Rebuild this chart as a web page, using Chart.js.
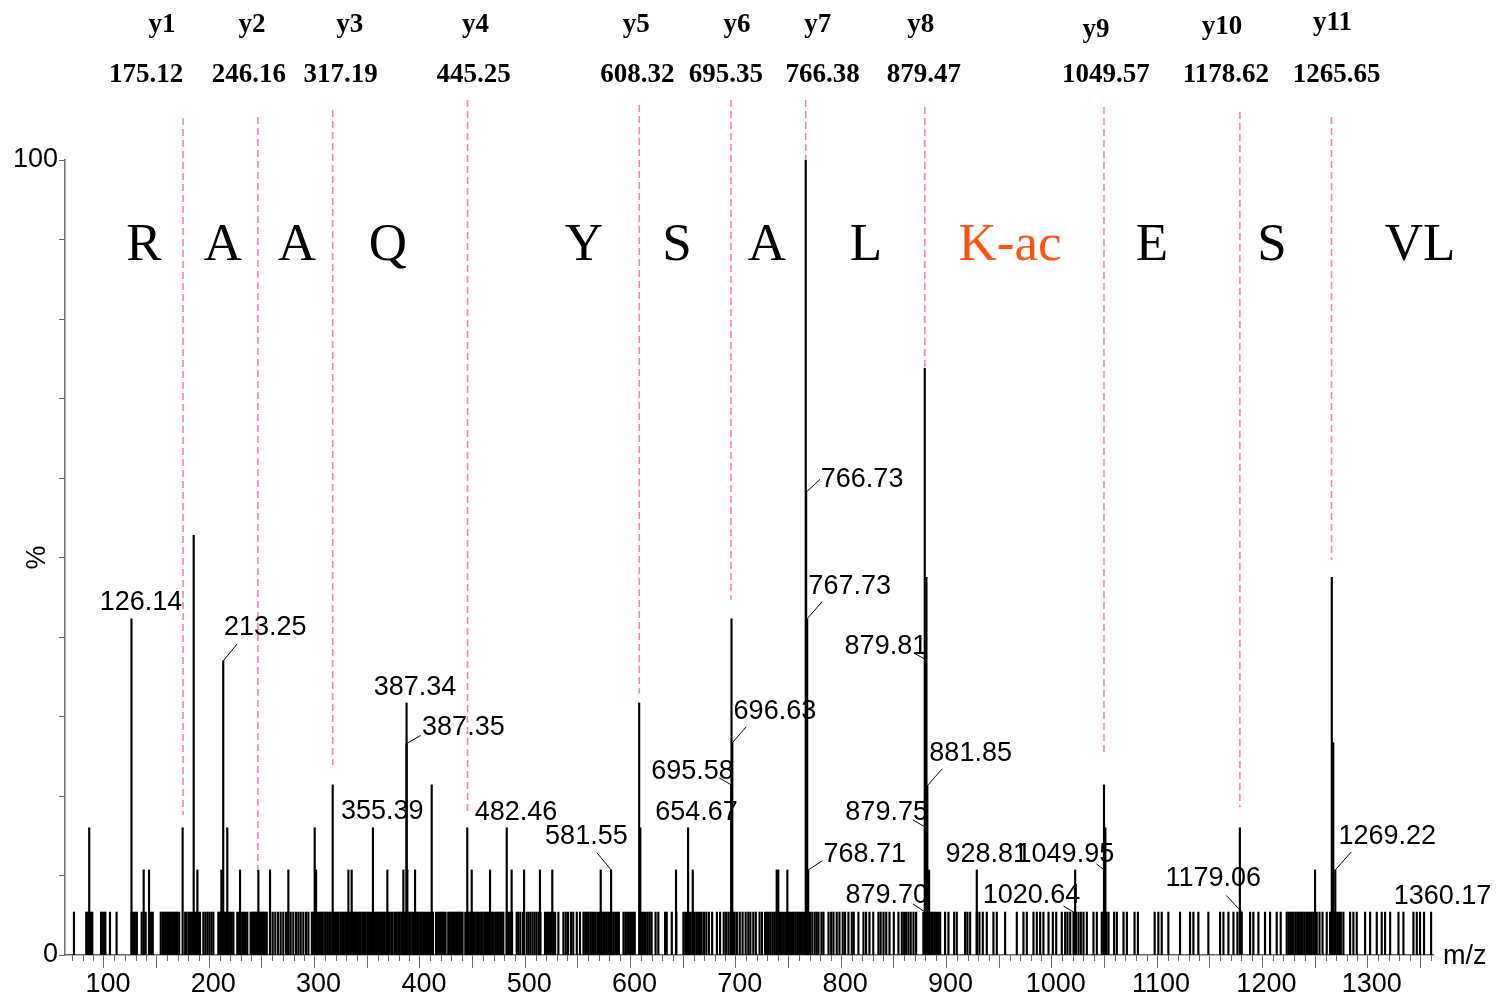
<!DOCTYPE html>
<html>
<head>
<meta charset="utf-8">
<script src="https://cdn.jsdelivr.net/npm/chart.js@4.4.1/dist/chart.umd.min.js"></script>
<style>
  html, body { margin: 0; padding: 0; background: #ffffff; }
  canvas { display: block; }
</style>
</head>
<body>
<canvas id="spectrum" width="1497" height="999"></canvas>
<script>
// ---- MS/MS spectrum of RAAQYSALK(ac)ESVL, relative intensity (%) vs m/z ----

// baseline ions (single-count level)
const noiseLevel = 5.4;
const noiseMzA = [71.5, 83.2, 84.6, 86.1, 87.6, 88.9, 97.2, 98.5, 100, 101.3, 105.7, 112, 126.3, 127.8, 129.4, 131.2,
  135.8, 137.7, 139.6, 142.8, 144.7, 146.3, 153.9, 155.6, 157.1, 158.9, 160.2, 161.7, 163.5, 165.1, 166.5, 168.3,
  169.6, 171.4, 177.1, 178.5, 180.6, 182.1, 183.7, 186.4, 188.1, 189.5, 191.2, 194.4, 196.3, 198.2, 200.1, 202,
  203.9, 208.6, 210.1, 211.6, 214, 215.4, 216.6, 218.1, 219.8, 221.3, 222.9, 226.6, 228.2, 229.8, 231.4, 233,
  234.6, 236.1, 239.3, 240.7, 242, 243.2, 244.5, 245.7, 247, 248.3, 249.5, 250.8, 252.1, 253.4, 254.6, 257.7,
  260.2, 262.7, 265.3, 267.8, 270.3, 272.9, 275.1, 277.3, 279.8, 282.4, 284.6, 286.8, 289.3, 291.9, 294.1];
const noiseMzB = [297.4, 298.9, 300.2, 301.8, 303.1, 304.7, 306.2, 307.6, 309.3, 310.6, 312.1, 313.8, 315.2, 316.9,
  318.3, 319.7, 321.4, 322.8, 324.5, 325.9, 327.2, 329, 330.4, 331.9, 333.5, 334.8, 336.4, 337.9, 339.3, 341,
  342.4, 343.8, 345.5, 347, 348.4, 350.1, 351.5, 352.9, 354.6, 356, 357.5, 359.1, 360.6, 362, 363.7, 365.1, 366.6,
  368.2, 369.6, 371.1, 372.8, 374.2, 376.4, 377.9, 379.5, 380.8, 382.4, 383.9, 385.3, 386.8, 388.4, 389.8, 391.3,
  392.9, 394.4, 395.8, 397.3, 398.9, 400.4, 401.8, 403.3, 404.9, 406.4, 407.8, 409.5, 411, 412.4, 415.3, 416.8,
  418.4, 419.9, 421.3, 422.9, 424.4, 426.9, 428.4, 429.9, 431.4, 432.8, 434.4, 435.9, 437.3, 438.9, 440.5, 443.1,
  444.6, 446.1, 447.6, 449.2, 450.6, 452.1, 453.7, 455.2, 456.6, 458.1, 459.6, 461.2, 462.7, 464.1, 465.6, 467.2,
  468.6, 470.1, 471.7, 473.1, 474.6, 476.2, 477.7, 479.2, 482.4, 484, 485.7, 487.5, 491.9, 493.5, 495.4, 497.9,
  501.4, 503.2, 505, 507, 508.9, 510.7, 512.6, 514.5, 518.8, 520.6, 522.5, 524.4, 526.4, 528.4, 531.5, 536.3,
  538.5, 540.6, 543.4, 545.6, 549, 552, 555.3, 557, 558.6, 560.2, 561.9, 563.6, 565.2, 567, 569, 570.8, 572.3,
  574, 575.6, 577.3, 578.9, 580.4, 582.2, 583.8, 585.5, 587.2, 589, 593.3, 595.1, 596.8, 598.5];
const noiseMzC = [600.4, 602.3, 604, 609.3, 611, 612.7, 614.5, 616.3, 618.2, 620, 623.8, 626.4, 632.8, 634.4, 639.2,
  643.5, 650.2, 652, 653.7, 655.5, 657.2, 659, 660.7, 662.5, 664.2, 666, 667.6, 669.8, 672, 674.5, 677.5, 682,
  685, 688.5, 690.8, 693, 695, 697.6, 698.9, 701, 703.7, 706.4, 709.3, 711.8, 713.8, 716.6, 719, 722.5, 724.8,
  727.8, 729.6, 731.3, 733, 734.9, 736.6, 738.4, 740.2, 742, 743.7, 745.6, 747.6, 748.8, 750.2, 751.6, 753.3,
  755, 756.8, 758.5, 760.1, 761.8, 763.6, 765.2, 767, 768.8, 770.5, 772.6, 774.9, 776.7, 778.5, 781.3, 783.2,
  788, 790.5, 792.7, 795.8, 798.4, 801.5, 803.7, 806.9, 810.1, 812, 816.4, 821.2, 823.7, 826.9, 830.5, 835.4,
  837.5, 840.2, 842.8, 845.9, 850, 854.4, 857.6, 859.8, 861.7, 863.9, 866.1, 868.7, 871.2, 878.1, 879.6, 881,
  882.5, 884, 885.5, 887, 888.6, 890.2, 892, 894, 898.7];
const noiseMzD = [901.9, 907.3, 909.8, 917.7, 919.9, 922.5, 928.8, 931.3, 934.5, 938.3, 944.6, 947.8, 955.7, 966.8,
  973.1, 976.3, 982.6, 985.8, 989, 992.1, 996.9, 1001, 1004.2, 1009.5, 1012.7, 1014.9, 1017.5, 1023.1, 1025.4,
  1027.6, 1030.1, 1033.3, 1039.6, 1042.8, 1047.5, 1049, 1050.5, 1052, 1053.9, 1059.2, 1061.8, 1068.1, 1071.3,
  1078.6, 1081.8, 1097.7, 1101.2, 1104.4, 1110.7, 1121.8, 1131.3, 1134.5, 1139.2, 1148.7, 1159.8, 1163, 1167.7,
  1172.5, 1176.3, 1180.4, 1188.3, 1191.4, 1196.2, 1202.5, 1207.3, 1213.6, 1217.4, 1223.1, 1224.8, 1226.4, 1228,
  1229.7, 1231.5, 1233.1, 1234.8, 1236.6, 1238.3, 1240, 1241.7, 1243.4, 1245.2, 1246.8, 1248.4, 1251.6, 1254.2,
  1257.1, 1261.1, 1264.3, 1266, 1267.7, 1269.4, 1271.1, 1272.8, 1274.5, 1276.9, 1283.3, 1286.4, 1289.6, 1297.5,
  1302.3, 1308.6, 1313.3, 1316.5, 1321.3, 1329.2, 1333.9, 1343.4, 1346.6, 1349.7, 1353.5];

// stronger, unlabelled peaks
const peakMz  = [86.0, 137.7, 142.8, 174.7, 185.2, 188.7, 211.5, 217.1, 229.2, 246.6, 257.7, 275.1, 300.1, 301.4,
  317.2, 332.1, 335.2, 369.1, 384.3, 388.1, 395.4, 411.2, 445.0, 449.2, 466.6, 487.1, 498.9, 514.0, 525.7, 571.7,
  608.2, 609.3, 643.2, 659.1, 695.9, 738.8, 740.3, 748.9, 766.38, 879.4, 881.0, 883.5, 1022.2, 1049.6, 1050.9,
  1178.6, 1250.0, 1265.9, 1267.3];
const peakPct = [16.0, 10.7, 10.7, 16.0, 52.8, 10.7, 10.7, 16.0, 10.7, 10.7, 10.7, 10.7, 16.0, 10.7,
  21.4, 10.7, 10.7, 10.7, 10.7, 10.7, 10.7, 21.4, 16.0, 10.7, 10.7, 10.7, 10.7, 10.7, 10.7, 10.7,
  31.7, 16.0, 10.7, 10.7, 42.3, 10.7, 10.7, 10.7, 100, 73.8, 47.5, 10.7, 10.7, 21.4, 16.0,
  16.0, 10.7, 47.5, 26.7];

// annotated peaks
const labelMz  = [126.14, 213.25, 355.39, 387.34, 387.35, 482.46, 581.55, 654.67, 695.58, 696.63, 766.73, 767.73,
  768.71, 879.81, 879.75, 879.70, 881.85, 928.81, 1020.64, 1049.95, 1179.06, 1269.22, 1360.17];
const labelPct = [42.3, 37.0, 16.0, 31.7, 26.6, 16.0, 10.7, 16.0, 21.4, 26.7, 58.2, 42.3,
  10.7, 37.2, 16.1, 5.4, 21.3, 10.7, 5.4, 10.7, 5.6, 10.7, 5.4];

// y-ion series
const ionNames = ['y1', 'y2', 'y3', 'y4', 'y5', 'y6', 'y7', 'y8', 'y9', 'y10', 'y11'];
const ionMz    = [175.12, 246.16, 317.19, 445.25, 608.32, 695.35, 766.38, 879.47, 1049.57, 1178.62, 1265.65];
const ionLineEndPct = [17.6, 10.7, 23.9, 17.6, 32.9, 44.7, 100, 73.6, 25.0, 18.6, 49.7];

// sequence read between the ion markers
const residues  = ['R', 'A', 'A', 'Q', 'Y', 'S', 'A', 'L', 'K-ac', 'E', 'S', 'VL'];
const residueMz = [138.0, 213.0, 283.3, 369.7, 555.8, 644.1, 729.6, 823.6, 960.4, 1095.2, 1209.2, 1349.8];

const xTickLabels = [100, 200, 300, 400, 500, 600, 700, 800, 900, 1000, 1100, 1200, 1300];
const yTickLabels = [0, 100];

// ---- layout / styling (pixels) ----
const labelLayout = [ // [text dx, text dy, leader dx, leader dy] from the peak top
  [9.5, -15, 0, 0], [42, -32, 14, -17], [9.3, -15, 0, 0], [8.5, -14, 0, 0], [56.8, -14.5, 14, -8],
  [9.3, -14, 0, 0], [-24.7, -32, -14, -17], [8.5, -14, 0, 0], [-38.6, -12, -12, -7], [42.6, -30, 14, -16],
  [56, -12, 14, -13], [42.5, -31, 15, -17], [56.5, -14, 14, -9], [-39.3, -12, -11, -6], [-38.5, -13, -12, -7],
  [-38.3, -16, -12, -8], [43.3, -31, 15, -17], [10, -14, 0, 0], [-42, -16, -10, -6], [-39, -14, -8, -6],
  [-27, -30.5, -14, -15], [52, -32, 16, -18], [11.5, -15, 0, 0]
];
const ionNameDx = [-21, -6, 17, 8, -3, 6, 12, -4, -8, -18, 1];
const ionNameY  = [25, 25, 25, 25, 25, 25, 25, 25, 30, 27, 23];
const ionValDx  = [-37, -9, 8, 6, -2, -5, 17, -1, 2, -14, 5];
const ionValY   = 75;
const ionLineTop = [118, 117, 110, 100, 105, 100, 100, 107, 107, 112, 117];
const residueBaseline = 260;

const SANS = '"Liberation Sans", Arial, sans-serif';
const SERIF = '"Liberation Serif", "Times New Roman", serif';
const AXIS_GREY = '#6a6a6a';
const ION_PINK = '#ff7fab';
const ACETYL = '#ff5410';

const toPoints = (xs, ys) => xs.map((m, i) => ({ x: m, y: Array.isArray(ys) ? ys[i] : ys }));
const noiseMz = [...noiseMzA, ...noiseMzB, ...noiseMzC, ...noiseMzD];

const annotate = {
  id: 'annotate',
  afterDatasetsDraw(chart) {
    const { ctx, scales: { x, y } } = chart;
    const y0 = y.getPixelForValue(0);
    ctx.save();

    // minor ticks every 10 units along m/z
    ctx.strokeStyle = AXIS_GREY;
    ctx.lineWidth = 1;
    for (let m = Math.ceil(x.min / 10) * 10; m <= x.max; m += 10) {
      if (m % 50 === 0) continue;
      const px = Math.round(x.getPixelForValue(m)) + 0.5;
      ctx.beginPath(); ctx.moveTo(px, y0); ctx.lineTo(px, y0 + 6); ctx.stroke();
    }

    // y-ion marker lines and their labels
    ctx.setLineDash([7, 4]);
    ctx.strokeStyle = ION_PINK;
    ctx.lineWidth = 1.6;
    ionMz.forEach((m, i) => {
      const px = x.getPixelForValue(m);
      ctx.beginPath();
      ctx.moveTo(px, ionLineTop[i]);
      ctx.lineTo(px, y.getPixelForValue(ionLineEndPct[i]));
      ctx.stroke();
    });
    ctx.setLineDash([]);
    ctx.fillStyle = '#000';
    ctx.font = 'bold 27px ' + SERIF;
    ctx.textAlign = 'center';
    ctx.textBaseline = 'middle';
    ionMz.forEach((m, i) => {
      const px = x.getPixelForValue(m);
      ctx.fillText(ionNames[i], px + ionNameDx[i], ionNameY[i]);
      ctx.fillText(m.toFixed(2), px + ionValDx[i], ionValY);
    });

    // peptide sequence
    ctx.font = '53px ' + SERIF;
    ctx.textBaseline = 'alphabetic';
    residues.forEach((r, i) => {
      ctx.fillStyle = r === 'K-ac' ? ACETYL : '#000';
      ctx.fillText(r, x.getPixelForValue(residueMz[i]), residueBaseline);
    });

    // peak labels with leader lines
    ctx.fillStyle = '#000';
    ctx.strokeStyle = '#000';
    ctx.lineWidth = 1;
    ctx.font = '27px ' + SANS;
    ctx.textBaseline = 'middle';
    labelMz.forEach((m, i) => {
      const px = x.getPixelForValue(m);
      const py = y.getPixelForValue(labelPct[i]);
      const [dx, dy, lx, ly] = labelLayout[i];
      if (lx || ly) {
        ctx.beginPath(); ctx.moveTo(px, py); ctx.lineTo(px + lx, py + ly); ctx.stroke();
      }
      ctx.fillText(m.toFixed(2), px + dx, py + dy - 1);
    });

    // axis titles
    ctx.font = '27px ' + SANS;
    ctx.textAlign = 'left';
    ctx.fillText('m/z', chart.chartArea.right + 10, y0 + 2);
    ctx.translate(38, y.getPixelForValue(50));
    ctx.rotate(-Math.PI / 2);
    ctx.textAlign = 'center';
    ctx.fillText('%', 0, 0);
    ctx.restore();
  }
};

new Chart(document.getElementById('spectrum'), {
  type: 'bar',
  data: {
    datasets: [
      { data: toPoints(noiseMz, noiseLevel), backgroundColor: '#000', barThickness: 1.5, grouped: false, borderWidth: 0 },
      { data: toPoints(peakMz, peakPct), backgroundColor: '#000', barThickness: 1.5, grouped: false, borderWidth: 0 },
      { data: toPoints(labelMz, labelPct), backgroundColor: '#000', barThickness: 1.5, grouped: false, borderWidth: 0 }
    ]
  },
  options: {
    responsive: false,
    animation: false,
    events: [],
    layout: { padding: { top: 160, right: 64, left: 0, bottom: 0 } },
    plugins: { legend: { display: false }, tooltip: { enabled: false } },
    scales: {
      x: {
        type: 'linear',
        min: 63, max: 1362,
        offset: false,
        border: { color: AXIS_GREY, width: 1.5 },
        grid: { drawOnChartArea: false, drawTicks: true, tickLength: 13, color: AXIS_GREY, offset: false },
        ticks: {
          autoSkip: false, maxRotation: 0, minRotation: 0,
          padding: 0, labelOffset: 4, color: '#000', font: { family: SANS, size: 27 },
          callback: v => xTickLabels.some(t => Math.abs(t - v) < 1e-6) ? String(Math.round(v)) : ''
        },
        // major ticks every 50 units, labelled every 100
        afterBuildTicks: s => {
          const major = [];
          for (let v = 100; v <= s.max; v += 50) major.push({ value: v });
          s.ticks = major;
        },
        afterFit: s => { s.height = 44; }
      },
      y: {
        min: 0, max: 100,
        border: { color: AXIS_GREY, width: 1.5 },
        grid: { drawOnChartArea: false, drawTicks: true, tickLength: 6, color: AXIS_GREY },
        ticks: {
          stepSize: 10, autoSkip: false, padding: 1, color: '#000', font: { family: SANS, size: 27 },
          callback: v => yTickLabels.includes(v) ? String(v) : ''
        },
        afterFit: s => { s.width = 65; }
      }
    }
  },
  plugins: [annotate]
});
</script>
</body>
</html>
